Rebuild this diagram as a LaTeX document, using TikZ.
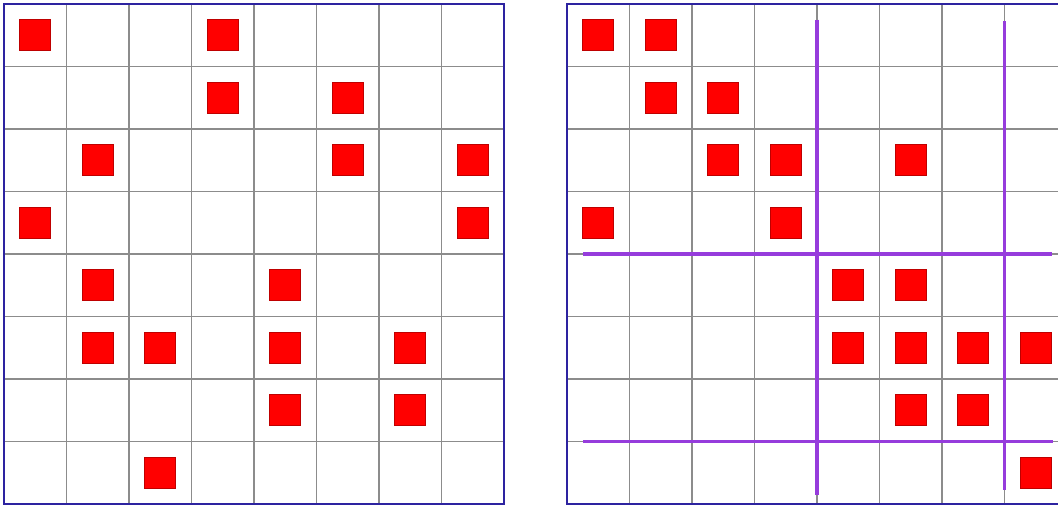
\documentclass[tikz,border=0pt]{standalone}
\usepackage{tikz}

\definecolor{gridgray}{RGB}{140,140,140}
\definecolor{frameblue}{RGB}{45,35,160}
\definecolor{cutpurple}{RGB}{150,60,220}
\definecolor{entryred}{RGB}{255,0,0}

\begin{document}
\begin{tikzpicture}[x=1cm, y=1cm,
    cellline/.style={gridgray, line width=0.8pt},
    frameline/.style={frameblue, line width=1pt},
    entry/.style={fill=entryred, draw=entryred!75!black, line width=0.4pt},
    cutline/.style={cutpurple, line width=1.8pt}]

    % Page size of the reference
    \useasboundingbox (0,0) rectangle (16.928,8.096);
    \clip (0,0) rectangle (16.928,8.096);

    % Left matrix: original order of rows and columns
    \begin{scope}[shift={(0.064,0.032)}]
        \draw[cellline] (0,0) grid (8,8);
        \draw[frameline] (0,0) rectangle (8,8);
        \foreach \c/\r in {1/1, 4/1, 4/2, 6/2, 2/3, 6/3, 8/3, 1/4, 8/4,
                           2/5, 5/5, 2/6, 3/6, 5/6, 7/6, 5/7, 7/7, 3/8}
            \filldraw[entry] (\c-0.75, 8.25-\r) rectangle ++(0.5,0.5);
    \end{scope}

    % Right matrix: reordered, with the block cuts
    \begin{scope}[shift={(9.072,0.032)}]
        \draw[cellline] (0,0) grid (8,8);
        \draw[frameline] (8,8) -- (0,8) -- (0,0) -- (8,0);
        \foreach \c/\r in {1/1, 2/1, 2/2, 3/2, 3/3, 4/3, 6/3, 1/4, 4/4,
                           5/5, 6/5, 5/6, 6/6, 7/6, 8/6, 6/7, 7/7, 8/8}
            \filldraw[entry] (\c-0.75, 8.25-\r) rectangle ++(0.5,0.5);

        % Block separators
        \coordinate (CutA) at (4,7.75);
        \coordinate (CutB) at (4,0.15);
        \coordinate (CutC) at (7,7.72);
        \coordinate (CutD) at (7,0.22);
        \coordinate (CutE) at (0.26,4);
        \coordinate (CutF) at (7.76,4);
        \coordinate (CutG) at (0.26,1);
        \coordinate (CutH) at (7.78,1);
        \draw[cutline] (CutA) -- (CutB);
        \draw[cutline] (CutC) -- (CutD);
        \draw[cutline] (CutE) -- (CutF);
        \draw[cutline] (CutG) -- (CutH);
    \end{scope}

\end{tikzpicture}
\end{document}
